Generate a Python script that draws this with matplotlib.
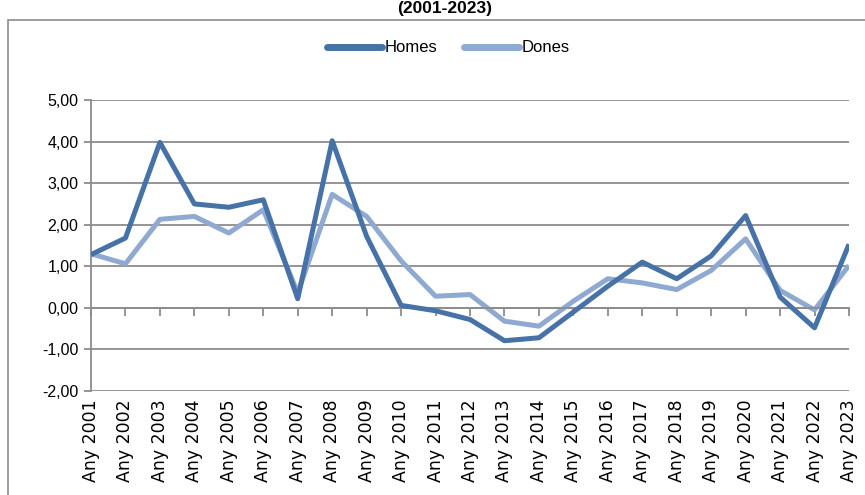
import matplotlib
matplotlib.use("Agg")
import matplotlib.pyplot as plt
from matplotlib.patches import Rectangle

years = [f"Any {y}" for y in range(2001, 2024)]
homes = [1.28, 1.68, 3.98, 2.50, 2.42, 2.60, 0.22, 4.02, 1.72, 0.06, -0.07, -0.28,
         -0.79, -0.72, -0.10, 0.52, 1.10, 0.70, 1.25, 2.22, 0.26, -0.48, 1.53]
dones = [1.30, 1.06, 2.13, 2.20, 1.80, 2.36, 0.36, 2.73, 2.20, 1.13, 0.28, 0.32,
         -0.32, -0.44, 0.16, 0.70, 0.60, 0.44, 0.90, 1.66, 0.42, -0.05, 1.02]
yticks = [-2, -1, 0, 1, 2, 3, 4, 5]
title = "(2001-2023)"

DARK = "#4672A8"
LIGHT = "#8FA9D0"
GRID = "#8C8C8C"
narrow = ["Liberation Sans Narrow", "Liberation Sans", "DejaVu Sans"]

fig = plt.figure(figsize=(8.65, 4.95), dpi=100)
fig.patches.append(Rectangle((8 / 865, -0.01), 1.0, 1 - 20 / 495 + 0.01,
                             transform=fig.transFigure, fill=False,
                             edgecolor="#8C8C8C", linewidth=1.2))
fig.text(445 / 865, 1 - 1 / 495, title, ha="center", va="top",
         fontsize=12.5, fontweight="bold", family=["Liberation Sans", "DejaVu Sans"])

ax = fig.add_axes([91 / 865, 1 - 391 / 495, (849 - 91) / 865, (391 - 100) / 495])
x = list(range(len(years)))
ax.plot(x, homes, color=DARK, lw=3.6, solid_joinstyle="round", solid_capstyle="butt",
        label="Homes", zorder=3)
ax.plot(x, dones, color=LIGHT, lw=3.6, solid_joinstyle="round", solid_capstyle="butt",
        label="Dones", zorder=2)

ax.set_xlim(0, len(years) - 1)
ax.set_ylim(-2, 5)
ax.set_yticks(yticks)
ax.set_yticklabels([f"{v:.2f}".replace(".", ",") for v in yticks],
                   family=narrow, fontsize=11.5)
for yv in yticks:
    ax.axhline(yv, color=GRID, lw=1.3, zorder=1)

for s in ["top", "right"]:
    ax.spines[s].set_visible(False)
ax.spines["left"].set_color(GRID)
ax.spines["left"].set_linewidth(1.3)
ax.spines["bottom"].set_position(("data", 0))
ax.spines["bottom"].set_color(GRID)
ax.spines["bottom"].set_linewidth(1.3)
ax.tick_params(axis="y", direction="out", length=5, color=GRID, width=1.3, pad=4)
ax.set_xticks(x)
ax.tick_params(axis="x", direction="out", length=6, color=GRID, width=1.3,
               labelbottom=False)

sec = ax.secondary_xaxis(0)
sec.set_xticks(x)
sec.set_xticklabels(years, rotation=90, fontsize=12.5, family="DejaVu Sans")
sec.tick_params(length=0, pad=6)
sec.spines["bottom"].set_visible(False)

leg = fig.legend(loc="center", bbox_to_anchor=(448 / 865, 1 - 48 / 495), ncol=2,
                 frameon=False, prop={"family": narrow, "size": 12},
                 handlelength=3.3, handletextpad=0.15, columnspacing=1.6)
for h in leg.get_lines():
    h.set_linewidth(5)
    h.set_solid_capstyle("round")

fig.savefig("out.png", dpi=100)
